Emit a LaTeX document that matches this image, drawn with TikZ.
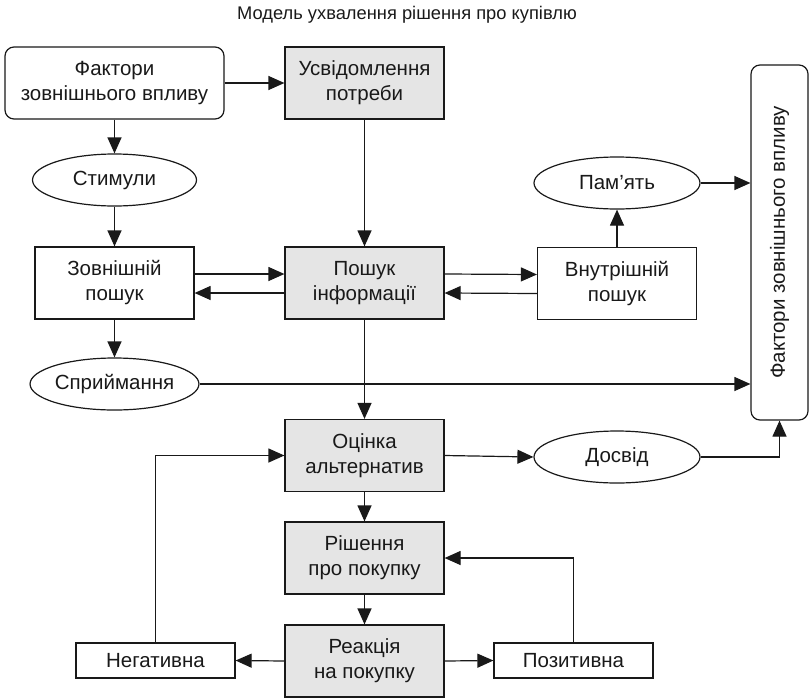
\documentclass[tikz,border=0pt]{standalone}
\usepackage{fontspec}
\setmainfont{Liberation Sans}
\usetikzlibrary{arrows.meta,shapes.geometric}
\begin{document}
\begin{tikzpicture}[x=1pt,y=-1pt,
 every node/.style={font=\fontsize{20.5}{25}\selectfont, align=center, inner sep=0pt, text=black!90},
 box/.style={draw=black!90, line width=1.2pt, minimum width=159pt, minimum height=72pt},
 gbox/.style={box, fill=black!10},
 rbox/.style={box, rounded corners=9pt},
 oval/.style={draw=black!90, ellipse, line width=1.2pt, minimum width=164pt, minimum height=52pt},
 arr/.style={draw=black!90, line width=1.2pt, -{Triangle[length=16pt,width=14pt]}}
]
\useasboundingbox (0,0) rectangle (810,699);
\node[font=\fontsize{18.3}{22}\selectfont] (title) at (407,15) {Модель ухвалення рішення про купівлю};
\node[rbox, minimum width=219pt] (fz) at (114.5,83) {Фактори\\зовнішнього впливу};
\node[gbox] (us) at (364.5,83) {Усвідомлення\\потреби};
\node[oval] (stim) at (114.5,180) {Стимули};
\node[box] (zp) at (114.5,283) {Зовнішній\\пошук};
\node[gbox] (pi) at (364.5,283) {Пошук\\інформації};
\node[box] (vp) at (617,283.5) {Внутрішній\\пошук};
\node[oval, minimum width=166pt] (pam) at (617,183) {Пам’ять};
\node[oval] (spr) at (114.5,384) {Сприймання};
\node[rbox, minimum width=57pt, minimum height=355pt] (tall) at (779.5,242.5) {};
\node[rotate=90] (talltext) at (tall.center) {Фактори зовнішнього впливу};
\node[gbox] (oc) at (364.5,455.5) {Оцінка\\альтернатив};
\node[oval, minimum width=166pt] (dos) at (617,457) {Досвід};
\node[gbox] (rs) at (364.5,558) {Рішення\\про покупку};
\node[gbox] (re) at (364.5,661) {Реакція\\на покупку};
\node[box, minimum height=35pt] (neg) at (155.5,660.5) {Негативна};
\node[box, minimum height=35pt] (pos) at (573.5,660.5) {Позитивна};

\draw[arr] (fz.east) -- (us.west);
\draw[arr] (fz.south) -- (stim.north);
\draw[arr] (stim.south) -- (zp.north);
\draw[arr] (us.south) -- (pi.north);
\draw[arr] ([yshift=9pt]zp.east) -- ([yshift=9pt]pi.west);
\draw[arr] ([yshift=-10pt]pi.west) -- ([yshift=-10pt]zp.east);
\draw[arr] ([yshift=9pt]pi.east) -- ([yshift=9pt]vp.west);
\draw[arr] ([yshift=-10pt]vp.west) -- ([yshift=-10pt]pi.east);
\draw[arr] (vp.north) -- (pam.south);
\draw[arr] (pam.east) -- (pam.east -| tall.west);
\draw[arr] (zp.south) -- (spr.north);
\draw[arr] (spr.east) -- (spr.east -| tall.west);
\draw[arr] (pi.south) -- (oc.north);
\draw[arr] (oc.east) -- (dos.west);
\draw[arr] (dos.east) -| (tall.south);
\draw[arr] (oc.south) -- (rs.north);
\draw[arr] (rs.south) -- (re.north);
\draw[arr] (re.west) -- (neg.east);
\draw[arr] (re.east) -- (pos.west);
\draw[arr] (neg.north) |- (oc.west);
\draw[arr] (pos.north) |- (rs.east);
\end{tikzpicture}
\end{document}
